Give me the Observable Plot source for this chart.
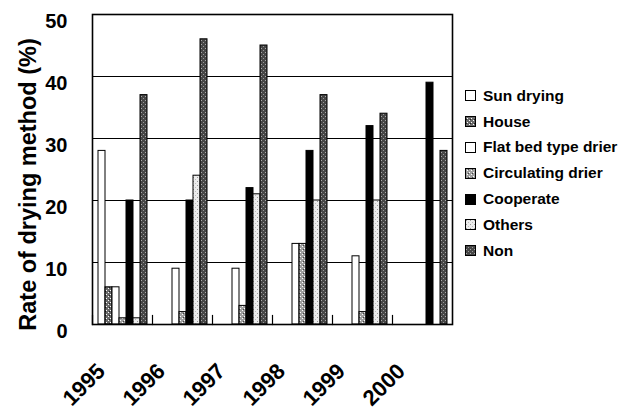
<!DOCTYPE html>
<html><head><meta charset="utf-8">
<script src="https://cdn.jsdelivr.net/npm/d3@7"></script>
<script src="https://cdn.jsdelivr.net/npm/@observablehq/plot@0.6"></script>
<style>
body{margin:0;background:#fff;}
#wrap{position:relative;width:619px;height:414px;}
#legend{position:absolute;left:465px;top:83px;font-family:"Liberation Sans",Arial,sans-serif;font-weight:bold;font-size:15.5px;color:#000;}
.item{display:flex;align-items:center;height:25.8px;white-space:nowrap;}
.item svg{margin-right:7px;}
</style></head><body>
<svg width="0" height="0" style="position:absolute"><defs>
<pattern id="pHouse" width="4" height="4" patternUnits="userSpaceOnUse"><rect width="4" height="4" fill="#6a6a6a"/><rect x="0" y="0" width="1" height="1" fill="#fff"/><rect x="2" y="2" width="1" height="1" fill="#fff"/><rect x="1" y="3" width="1" height="1" fill="#222"/></pattern>
<pattern id="pCirc" width="4" height="4" patternUnits="userSpaceOnUse"><rect width="4" height="4" fill="#a0a0a0"/><rect x="0" y="0" width="1" height="1" fill="#fff"/><rect x="2" y="2" width="1" height="1" fill="#fff"/><rect x="3" y="1" width="1" height="1" fill="#444"/></pattern>
<pattern id="pOthers" width="4" height="4" patternUnits="userSpaceOnUse"><rect width="4" height="4" fill="#ececec"/><rect x="1" y="1" width="1" height="1" fill="#999"/><rect x="3" y="3" width="1" height="1" fill="#bbb"/></pattern>
<pattern id="pNon" width="4" height="4" patternUnits="userSpaceOnUse"><rect width="4" height="4" fill="#474747"/><rect x="1" y="0" width="1" height="1" fill="#aaa"/><rect x="3" y="2" width="1" height="1" fill="#999"/></pattern>
</defs></svg>
<div id="wrap"><div id="legend"></div></div>
<script>
const years = ["1995", "1996", "1997", "1998", "1999", "2000"];
const series = ["Sun drying", "House", "Flat bed type drier", "Circulating drier", "Cooperate", "Others", "Non"];
const sunDrying   = [28, 0, 0, 0, 0, 0];
const house       = [6, 0, 0, 0, 0, 0];
const flatBed     = [6, 9, 9, 13, 11, 0];
const circulating = [1, 2, 3, 13, 2, 0];
const cooperate   = [20, 20, 22, 28, 32, 39];
const others      = [1, 24, 21, 20, 20, 0];
const non         = [37, 46, 45, 37, 34, 28];
const yTicks = [0, 10, 20, 30, 40, 50];
const gridValues = [10, 20, 30, 40];
const fills = ["#ffffff", "url(#pHouse)", "#ffffff", "url(#pCirc)", "#000000", "url(#pOthers)", "url(#pNon)"];

const valuesBySeries = [sunDrying, house, flatBed, circulating, cooperate, others, non];
const data = [];
years.forEach((yr, i) => series.forEach((s, j) => {
  const v = valuesBySeries[j][i];
  if (v > 0) data.push({year: yr, series: s, value: v});
}));

const chart = Plot.plot({
  width: 619, height: 414,
  marginLeft: 92, marginRight: 167, marginTop: 14, marginBottom: 90,
  style: {fontFamily: "Liberation Sans, Arial, sans-serif", background: "white"},
  fx: {domain: years, padding: 0},
  x: {domain: series, paddingInner: 0, paddingOuter: 0.54, axis: null},
  y: {domain: [0, 50], ticks: yTicks},
  color: {domain: series, range: fills},
  marks: [
    Plot.ruleY(gridValues, {stroke: "black", strokeWidth: 1.2}),
    Plot.barY(data, {fx: "year", x: "series", y: "value", fill: "series", stroke: "black", strokeWidth: 1}),
    Plot.frame({anchor: "left", insetTop: 301, stroke: "black", strokeWidth: 1.2}),
    Plot.frame({facet: "super", stroke: "black", strokeWidth: 1.6}),
    Plot.axisY({ticks: yTicks, tickSize: 0, tickPadding: 25, dy: 7, label: null, fontSize: 20, fontWeight: "bold"}),
    Plot.axisFx({anchor: "bottom", tickSize: 0, tickPadding: 0, tickRotate: -45, dx: -21, dy: 43, label: null, fontSize: 22, fontWeight: "bold"}),
    Plot.text(["Rate of drying method (%)"], {facet: "super", frameAnchor: "left", textAnchor: "middle", rotate: -90, dx: -64, dy: 15, fontSize: 23.5, fontWeight: "bold"})
  ]
});
document.getElementById("wrap").prepend(chart);

const legend = document.getElementById("legend");
series.forEach((s, j) => {
  const item = document.createElement("div");
  item.className = "item";
  item.innerHTML = `<svg width="11" height="11"><rect x="0.5" y="0.5" width="10" height="10" fill="${fills[j]}" stroke="black" stroke-width="1"/></svg><span>${s}</span>`;
  legend.appendChild(item);
});
</script>
</body></html>
